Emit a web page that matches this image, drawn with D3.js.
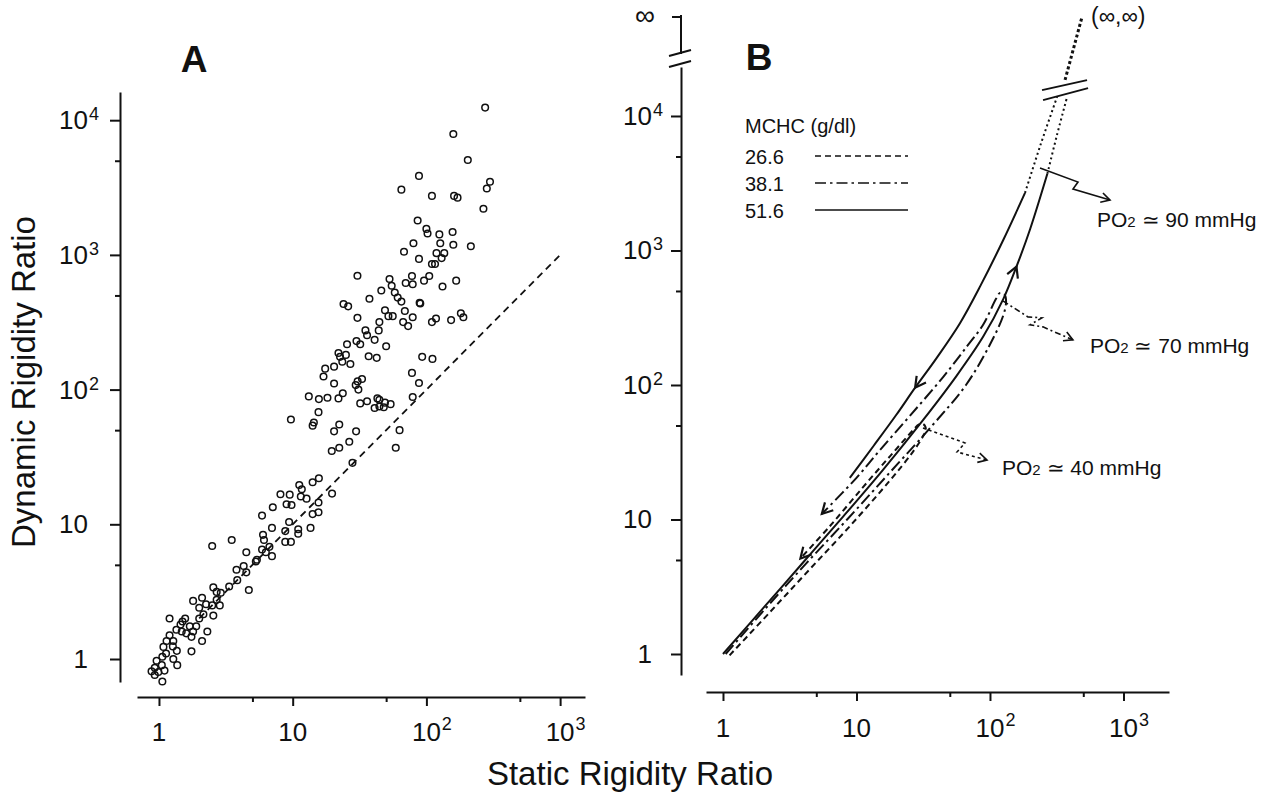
<!DOCTYPE html>
<html>
<head>
<meta charset="utf-8">
<script src="https://cdn.jsdelivr.net/npm/d3@7"></script>
<style>
  body { margin: 0; background: #fff; }
  svg text { font-family: "Liberation Sans", Arial, Helvetica, sans-serif; fill: #111; }
  .ax path, .ax line { stroke: #111; stroke-width: 2; }
</style>
</head>
<body>
<svg id="fig" width="1266" height="801"></svg>
<script>
// stand-in value for the "∞" end of the broken axis in panel B
const INF = 1e9;

// ---------- panel A data (static vs dynamic rigidity ratio) ----------
const staticRatio = [
  275,159,204,88,65,110,161,171,299,283,267,86,100,102,125,157,80,127,159,215,
  68,88,119,136,130,110,116,30.5,53,78,105,70,79,96,167,132,46,55,58,61,
  37.5,65,89,90,24,26,49,52,56,69,79,30.5,44.5,67,73,110,118,153,181,189,
  35,44,36,41,50,25.5,30,32,22,25,22.6,27,23.5,37,42.5,20.4,17.5,17,93,111,
  78,20.4,30.6,33,29.6,31,88,23.7,22,13.2,15.7,18.2,32,36,43,44.5,41,44.5,48,54,
  49,79,15.6,14.4,14.1,9.7,20.4,22.3,29.8,63,19.6,22.3,26.5,59,28,14.1,15.7,11.2,8.1,9.5,
  11.7,11.5,12.7,9.0,9.8,15.6,19.7,7.1,5.9,14.1,15.6,9.4,8.8,11,13.6,7.0,6.0,6.1,8.8,9.7,
  11,5.9,6.7,6.3,7.0,5.4,5.3,4.5,2.5,3.5,4.3,3.8,4.5,4.7,3.85,3.35,2.9,2.55,2.7,2.85,
  2.7,2.5,2.25,2.1,1.8,2.0,2.15,2.55,2.0,1.7,1.9,1.57,1.5,1.45,1.35,1.48,1.6,1.8,2.3,2.1,
  1.75,1.2,1.2,1.28,1.14,1.08,1.27,1.36,1.13,1.75,1.06,1.28,0.96,0.93,1.05,1.37,0.88,0.99,1.1,0.93,
  1.06
];
const dynamicRatio = [
  12400,7900,5060,3860,3050,2740,2740,2660,3490,3110,2200,1800,1560,1440,1420,1480,1220,1220,1190,1160,
  1055,934,1030,1030,947,855,855,700,662,698,698,618,606,644,644,582,544,590,526,482,
  472,450,441,436,432,415,388,351,351,383,344,341,317,317,296,317,337,328,368,344,
  275,275,253,234,210,217,229,217,187,181,175,155,161,177,172,148,143,125,175,169,
  133,111,115,120,108,100,112,94,86,89,85,87,79,82,86,84,73,75,74,78,
  80,88,68,57,54,60,49,55,49,50,35,37,41,37,28.6,20.5,22,19.6,16.7,16.6,
  18.2,16.1,15.5,14.1,13.9,14.5,16.9,13.4,11.6,11.9,12.3,10.4,8.9,9.2,9.4,9.4,8.35,7.65,7.4,7.4,
  8.5,6.5,6.8,6.2,5.8,5.45,5.3,6.2,6.9,7.65,4.9,4.6,4.4,3.25,3.85,3.45,3.1,3.4,3.15,2.5,
  2.75,2.5,2.55,2.85,2.7,2.4,2.15,2.1,2.0,1.75,1.75,2.0,1.9,1.8,1.65,1.6,1.55,1.6,1.6,1.36,
  1.46,2.0,1.5,1.36,1.36,1.23,1.24,1.15,1.1,1.14,1.04,1.0,0.97,0.86,0.9,0.9,0.81,0.8,0.82,0.76,
  0.68
];
const identityEnds = [2, 1000];           // dashed y = x line
const majorTicks = [1, 10, 100, 1000];
const majorTicksY = [1, 10, 100, 1000, 10000];
const minorTicks = [5, 50, 500];
const minorTicksY = [5, 50, 500, 5000];

// ---------- panel B data (hysteresis curves, MCHC g/dl) ----------
const mchcLabels = ["26.6", "38.1", "51.6"];
const curve266 = [
  [1.12,0.977],[2.24,2.04],[4.47,4.27],[8.91,8.91],[17.8,19.5],[26.3,31.6],[31.6,41.7],[33.1,46.8],
  [31.6,51.3],[29.2,50.7],[26.9,46.8],[17.8,29.5],[11.2,17.4],[6.31,8.91],[3.80,5.13]
];
const curve381 = [
  [1.047,1.0],[2.09,2.19],[4.17,4.68],[8.51,10.0],[17.8,22.4],[36.3,49.0],[66.1,100],[100,200],
  [126,331],[132,417],[129,468],[119,484],[111,437],[89.1,282],[67.6,195],[44.7,115],[25.1,58.9],
  [15.1,33.1],[10,20.4],[5.5,11.0]
];
const curve516Up = [
  [1,1],[2.0,2.19],[3.98,4.79],[7.94,10.5],[15.8,23.4],[31.6,55],[56.2,117],[89,229],[126,437],
  [158,759],[200,1445],[269,3715]
];
const curve516Down = [
  [183,2680],[126,1202],[85.1,550],[59.6,288],[39.8,158.5],[27.5,95.5],[19.95,60.3],[13.5,35.5],[8.91,20.4]
];
const dotUp = [[269,3715],[316,7080],[378,13840]];
const dotDown = [[183,2680],[240,6170],[318,13840]];
const dotTop = [[365,18540],[489,INF]];
const curveBreak = [365, 15700];
const curveArrows = [
  { at: [158,759], from: [126,437] },
  { at: [27.5,95.5], from: [39.8,158.5] },
  { at: [5.5,11.0], from: [10,20.4] },
  { at: [3.80,5.13], from: [6.31,8.91] }
];
const po2Values = ["90", "70", "40"];
const po2Anchors = [[237,4100], [125,422], [31.5,47.9]];
// zig-zag leader shapes, pixel offsets from the anchor
const leaderShapes = [
  [[0,0],[38,14],[33,21],[70,32]],
  [[0,0],[25,16],[39,17],[27,24],[40,26],[70,39]],
  [[0,0],[42,15],[34,24],[64,32]]
];
const leaderDash = [null, "6,3,2,3", "3,3"];
const po2TextOffset = [[57,59], [87,52], [79,47]];

const svg = d3.select("#fig");

// scales
const xA = d3.scaleLog().domain([0.685, 1535]).range([137, 585]);
const yA = d3.scaleLog().domain([0.675, 16190]).range([682, 92]);
const xB = d3.scaleLog().domain([0.746, 2193]).range([706, 1169]);
const yB = d3.scaleLog().domain([0.698, 23130, INF]).range([675, 67, 17]);
const yBaxis = d3.scaleLog().domain([0.698, 23130]).range([675, 67]);

function parts(v) {
  if (v >= 100) return { base: "10", exp: String(Math.round(Math.log10(v))) };
  return { base: String(v), exp: null };
}

function bottomAxis(scale, y, baseline) {
  svg.append("g").attr("class", "ax").attr("transform", `translate(0,${y})`)
    .call(d3.axisBottom(scale).tickValues(majorTicks).tickSize(9).tickSizeOuter(0).tickFormat(""));
  const mn = svg.append("g").attr("class", "ax").attr("transform", `translate(0,${y})`)
    .call(d3.axisBottom(scale).tickValues(minorTicks).tickSize(5).tickSizeOuter(0).tickFormat(""));
  mn.select(".domain").remove();
  majorTicks.forEach(v => {
    const p = parts(v);
    const t = svg.append("text").attr("x", scale(v)).attr("y", baseline)
      .attr("text-anchor", "middle").attr("font-size", 26).text(p.base);
    if (p.exp) {
      const w = t.node().getComputedTextLength();
      svg.append("text").attr("x", scale(v) + w / 2 + 1).attr("y", baseline - 11)
        .attr("font-size", 18).text(p.exp);
    }
  });
}

function leftAxis(scale, x, labelRight) {
  svg.append("g").attr("class", "ax").attr("transform", `translate(${x},0)`)
    .call(d3.axisLeft(scale).tickValues(majorTicksY).tickSize(10).tickSizeOuter(0).tickFormat(""));
  const mn = svg.append("g").attr("class", "ax").attr("transform", `translate(${x},0)`)
    .call(d3.axisLeft(scale).tickValues(minorTicksY).tickSize(5).tickSizeOuter(0).tickFormat(""));
  mn.select(".domain").remove();
  majorTicksY.forEach(v => {
    const p = parts(v);
    svg.append("text").attr("x", labelRight).attr("y", scale(v) + 9)
      .attr("text-anchor", "end").attr("font-size", 26).text(p.base);
    if (p.exp) {
      svg.append("text").attr("x", labelRight + 1).attr("y", scale(v))
        .attr("font-size", 18).text(p.exp);
    }
  });
}

function arrowHead(g, tip, from, len, style) {
  const a = Math.atan2(tip[1] - from[1], tip[0] - from[0]);
  const s = 0.5;
  const p1 = [tip[0] - len * Math.cos(a - s), tip[1] - len * Math.sin(a - s)];
  const p2 = [tip[0] - len * Math.cos(a + s), tip[1] - len * Math.sin(a + s)];
  g.append("path").attr("d", `M${p1}L${tip}L${p2}`)
    .attr("fill", "none").attr("stroke", "#111").attr("stroke-width", style || 2)
    .attr("stroke-linejoin", "miter");
}

// ================= panel A =================
bottomAxis(xA, 697, 741);
leftAxis(yA, 120, 88);

svg.append("text").attr("x", 194).attr("y", 72).attr("text-anchor", "middle")
  .attr("font-size", 37).attr("font-weight", "bold").text("A");

svg.append("line")
  .attr("x1", xA(identityEnds[0])).attr("y1", yA(identityEnds[0]))
  .attr("x2", xA(identityEnds[1])).attr("y2", yA(identityEnds[1]))
  .attr("stroke", "#111").attr("stroke-width", 1.8).attr("stroke-dasharray", "7,5");

svg.append("g").selectAll("circle")
  .data(staticRatio.map((s, i) => [s, dynamicRatio[i]]))
  .join("circle")
  .attr("cx", d => xA(d[0])).attr("cy", d => yA(d[1])).attr("r", 3.3)
  .attr("fill", "none").attr("stroke", "#111").attr("stroke-width", 1.5);

svg.append("text").attr("transform", "translate(35,382) rotate(-90)")
  .attr("text-anchor", "middle").attr("font-size", 33).text("Dynamic Rigidity Ratio");
svg.append("text").attr("x", 630).attr("y", 785)
  .attr("text-anchor", "middle").attr("font-size", 33).text("Static Rigidity Ratio");

// ================= panel B =================
bottomAxis(xB, 692, 737);
leftAxis(yBaxis, 681, 652);

// upper stub of the broken y axis with the ∞ tick
const yInf = yB(INF);
svg.append("line").attr("x1", 681).attr("x2", 681).attr("y1", yInf - 2).attr("y2", 54)
  .attr("stroke", "#111").attr("stroke-width", 2);
svg.append("line").attr("x1", 672).attr("x2", 681).attr("y1", yInf).attr("y2", yInf)
  .attr("stroke", "#111").attr("stroke-width", 2);
[[56, 50], [67, 61]].forEach(([a, b]) => {
  svg.append("line").attr("x1", 669).attr("y1", a).attr("x2", 691).attr("y2", b)
    .attr("stroke", "#111").attr("stroke-width", 2);
});
svg.append("text").attr("x", 645).attr("y", yInf + 8).attr("text-anchor", "middle")
  .attr("font-size", 28).text("∞");

svg.append("text").attr("x", 759).attr("y", 70).attr("text-anchor", "middle")
  .attr("font-size", 37).attr("font-weight", "bold").text("B");

// legend
const legendY = [156, 183, 210];
const legendDash = ["6,4", "11,4,2.5,4", null];
svg.append("text").attr("x", 745).attr("y", 133).attr("font-size", 20).text("MCHC (g/dl)");
mchcLabels.forEach((m, i) => {
  svg.append("text").attr("x", 745).attr("y", legendY[i] + 8).attr("font-size", 20).text(m);
  svg.append("line").attr("x1", 815).attr("x2", 908).attr("y1", legendY[i]).attr("y2", legendY[i])
    .attr("stroke", "#111").attr("stroke-width", 1.6).attr("stroke-dasharray", legendDash[i]);
});

const lineB = d3.line().x(d => xB(d[0])).y(d => yB(d[1])).curve(d3.curveCatmullRom.alpha(0.5));
const gB = svg.append("g").attr("fill", "none").attr("stroke", "#111");

gB.append("path").attr("d", lineB(curve266)).attr("stroke-width", 2).attr("stroke-dasharray", "6,4");
gB.append("path").attr("d", lineB(curve381)).attr("stroke-width", 2).attr("stroke-dasharray", "12,4,2.5,4");
gB.append("path").attr("d", lineB(curve516Up)).attr("stroke-width", 2);
gB.append("path").attr("d", lineB(curve516Down)).attr("stroke-width", 2);
[dotUp, dotDown].forEach(d => {
  gB.append("path").attr("d", lineB(d)).attr("stroke-width", 2).attr("stroke-dasharray", "2,3");
});
gB.append("path").attr("d", d3.line().x(d => xB(d[0])).y(d => yB(d[1]))(dotTop))
  .attr("stroke-width", 3).attr("stroke-dasharray", "3,2.5");

// break marks on the curves
const cb = [xB(curveBreak[0]), yB(curveBreak[1])];
[[[-23, 0.5], [22, -9.5]], [[-22, 10.5], [23, -1.5]]].forEach(([p, q]) => {
  gB.append("line").attr("x1", cb[0] + p[0]).attr("y1", cb[1] + p[1])
    .attr("x2", cb[0] + q[0]).attr("y2", cb[1] + q[1]).attr("stroke-width", 2);
});

curveArrows.forEach(a => {
  arrowHead(gB, [xB(a.at[0]), yB(a.at[1])], [xB(a.from[0]), yB(a.from[1])], 12, 2.2);
});

svg.append("text").attr("x", xB(dotTop[1][0]) + 9).attr("y", yInf + 7)
  .attr("font-size", 23).text("(∞,∞)");

// PO2 annotations
po2Anchors.forEach((an, i) => {
  const o = [xB(an[0]), yB(an[1])];
  const pts = leaderShapes[i].map(p => [o[0] + p[0], o[1] + p[1]]);
  gB.append("path").attr("d", d3.line()(pts)).attr("stroke-width", 1.6)
    .attr("stroke-dasharray", leaderDash[i]);
  arrowHead(gB, pts[pts.length - 1], pts[pts.length - 2], 10, 1.6);
  const t = svg.append("text").attr("x", o[0] + po2TextOffset[i][0]).attr("y", o[1] + po2TextOffset[i][1])
    .attr("font-size", 21);
  t.append("tspan").text("PO");
  t.append("tspan").attr("font-size", 15).text("2");
  t.append("tspan").text(" ≃ " + po2Values[i] + " mmHg");
});
</script>
</body>
</html>
